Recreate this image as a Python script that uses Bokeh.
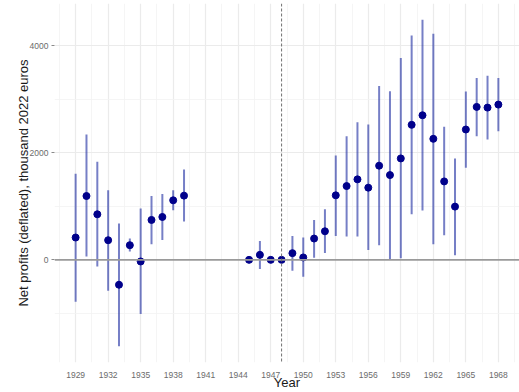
from bokeh.plotting import figure
from bokeh.models import ColumnDataSource, FixedTicker, Span, Range1d
from bokeh.embed import file_html
from bokeh.resources import INLINE

nan = float("nan")

years = [1929, 1930, 1931, 1932, 1933, 1934, 1935, 1936, 1937, 1938, 1939,
         1945, 1946, 1947, 1948, 1949, 1950, 1951, 1952,
         1953, 1954, 1955, 1956, 1957, 1958, 1959, 1960,
         1961, 1962, 1963, 1964, 1965, 1966, 1967, 1968]
profits = [417, 1192, 851, 367, -465, 274, -30, 745, 801, 1112, 1199,
           0, 93, 0, 0, 125, 45, 398, 534,
           1205, 1378, 1503, 1348, 1758, 1583, 1894, 2521,
           2700, 2260, 1465, 994, 2434, 2856, 2843, 2899]
lower = [-782, 63, -123, -577, -1612, 156, -1011, 292, 372, 925, 715,
         nan, -173, nan, nan, -205, -317, 37, 130,
         447, 435, 435, 186, 274, 0, 32, 851,
         920, 292, 460, 88, 1720, 2309, 2247, 2402]
upper = [1609, 2340, 1832, 1298, 678, 398, 957, 1192, 1229, 1298, 1689,
         nan, 354, nan, nan, 447, 417, 745, 944,
         1950, 2309, 2570, 2527, 3247, 3147, 3769, 4190,
         4482, 4221, 2484, 1894, 3142, 3396, 3439, 3396]

x_ticks = list(range(1929, 1969, 3))
x_minor = [t + 1.5 for t in range(1926, 1969, 3)]
y_ticks = [0, 2000, 4000]
y_minor = [-1000, 1000, 3000]
break_year = 1948

src = ColumnDataSource(dict(year=years, profit=profits, lo=lower, hi=upper))

lo_all = min(v for v in lower if v == v)
hi_all = max(v for v in upper if v == v)
ypad = 0.05 * (hi_all - lo_all)
xpad = 0.05 * (max(years) - min(years))

p = figure(width=519, height=392, output_backend="svg", toolbar_location=None,
           x_range=Range1d(min(years) - xpad, max(years) + xpad),
           y_range=Range1d(lo_all - ypad, hi_all + ypad),
           min_border_left=54, min_border_right=0, min_border_top=3,
           min_border_bottom=29)
p.outline_line_color = None
p.background_fill_color = "white"

p.xaxis.ticker = FixedTicker(ticks=x_ticks, minor_ticks=x_minor)
p.yaxis.ticker = FixedTicker(ticks=y_ticks, minor_ticks=y_minor)

for g in (p.xgrid, p.ygrid):
    g.grid_line_color = "#EBEBEB"
    g.grid_line_width = 1.2
    g.minor_grid_line_color = "#F3F3F3"
    g.minor_grid_line_width = 0.8

for ax in (p.xaxis, p.yaxis):
    ax.axis_line_color = None
    ax.minor_tick_line_color = None
    ax.major_label_text_font = "Liberation Sans"
    ax.major_label_text_font_size = "8.5px"
    ax.major_label_text_color = "#6b6b6b"
    ax.axis_label_text_font = "Liberation Sans"
    ax.axis_label_text_font_size = "13px"
    ax.axis_label_text_font_style = "normal"
    ax.axis_label_text_color = "#1a1a1a"

p.xaxis.major_tick_line_color = None
p.xaxis.major_tick_out = 0
p.xaxis.major_tick_in = 0
p.xaxis.major_label_standoff = 5
p.xaxis.axis_label = "Year"
p.xaxis.axis_label_standoff = -6

p.yaxis.major_tick_line_color = "#8a8a8a"
p.yaxis.major_tick_out = 3
p.yaxis.major_tick_in = 0
p.yaxis.major_label_standoff = 2
p.yaxis.axis_label = "Net profits (deflated), thousand 2022 euros"
p.yaxis.axis_label_standoff = -4

p.add_layout(Span(location=0, dimension="width", line_color="#9a9a9a",
                  line_width=1.6))
p.add_layout(Span(location=break_year, dimension="height", line_color="#707070",
                  line_width=1, line_dash="3 2"))

p.segment(x0="year", y0="lo", x1="year", y1="hi", source=src,
          line_color="#1a2aa0", line_alpha=0.6, line_width=2)
p.scatter(x="year", y="profit", source=src, size=7, fill_color="#00008B",
          line_color="#00008B")

open("out.html", "w").write(file_html(p, INLINE))
